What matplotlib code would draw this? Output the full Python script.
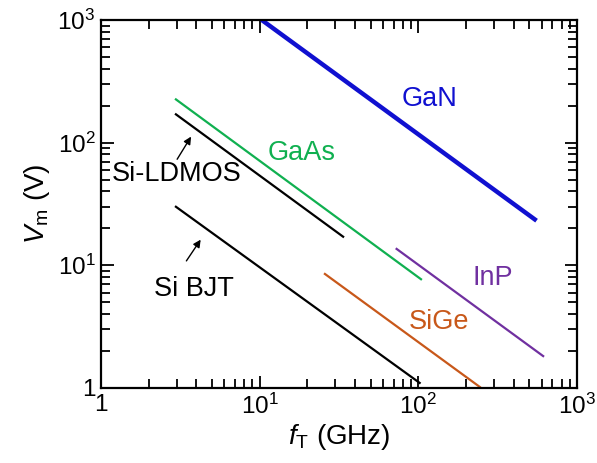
import numpy as np
import matplotlib
matplotlib.use("Agg")
import matplotlib.pyplot as plt
from matplotlib.ticker import LogLocator, FixedLocator, FixedFormatter

plt.rcParams['font.family'] = ['Liberation Sans', 'DejaVu Sans']
plt.rcParams['mathtext.fontset'] = 'custom'
plt.rcParams['mathtext.rm'] = 'Liberation Sans'
plt.rcParams['mathtext.it'] = 'Liberation Sans:italic'

# line end points (fT in GHz, Vm in V)
gan_f = [10.3, 556]
gan_v = [1000, 23.1]
gaas_f = [2.97, 104]
gaas_v = [225, 7.7]
ldmos_f = [2.97, 33.6]
ldmos_v = [170, 17.1]
bjt_f = [2.97, 102]
bjt_v = [30, 1.1]
sige_f = [25.8, 244]
sige_v = [8.5, 1.02]
inp_f = [73, 612]
inp_v = [13.6, 1.82]

tick_vals = [1, 10, 100, 1000]
tick_labels = ['1', '$10^1$', '$10^2$', '$10^3$']

fig = plt.figure(figsize=(5.97, 4.63), dpi=100)
ax = fig.add_axes([0.169, 0.162, 0.7975, 0.795])

ax.plot(gan_f, gan_v, color='#1010D0', lw=3.2, solid_capstyle='butt')
ax.plot(gaas_f, gaas_v, color='#10B050', lw=1.6)
ax.plot(ldmos_f, ldmos_v, color='black', lw=1.6)
ax.plot(bjt_f, bjt_v, color='black', lw=1.6)
ax.plot(sige_f, sige_v, color='#C8581A', lw=1.6)
ax.plot(inp_f, inp_v, color='#7030A0', lw=1.6)

ax.set_xscale('log')
ax.set_yscale('log')
ax.set_xlim(1, 1000)
ax.set_ylim(1, 1000)

fs = 19.5
ax.text(117, 226, 'GaN', color='#1010D0', fontsize=fs, ha='center', va='center')
ax.text(18.5, 82, 'GaAs', color='#10B050', fontsize=fs, ha='center', va='center')
ax.text(295, 7.9, 'InP', color='#7030A0', fontsize=fs, ha='center', va='center')
ax.text(135, 3.45, 'SiGe', color='#C8581A', fontsize=fs, ha='center', va='center')

ax.annotate('', xy=(3.78, 117), xytext=(2.96, 70),
            arrowprops=dict(arrowstyle='-|>', color='black', lw=1, mutation_scale=11))
ax.text(3.0, 56, 'Si-LDMOS', color='black', fontsize=fs, ha='center', va='center')
ax.annotate('', xy=(4.35, 16.9), xytext=(3.38, 10.4),
            arrowprops=dict(arrowstyle='-|>', color='black', lw=1, mutation_scale=11))
ax.text(3.85, 6.4, 'Si BJT', color='black', fontsize=fs, ha='center', va='center')

for axis in (ax.xaxis, ax.yaxis):
    axis.set_major_locator(FixedLocator(tick_vals))
    axis.set_major_formatter(FixedFormatter(tick_labels))
    axis.set_minor_locator(LogLocator(base=10, subs=np.arange(2, 10), numticks=20))
    axis.set_minor_formatter(plt.NullFormatter())

ax.tick_params(which='both', direction='in', top=True, right=True, width=1.3, labelsize=17.5)
ax.tick_params(which='major', length=9, pad=4)
ax.tick_params(which='minor', length=6.5)
for sp in ax.spines.values():
    sp.set_linewidth(1.6)

ax.set_xlabel('$f_\\mathrm{T}$ (GHz)', fontsize=20, labelpad=2)
ax.set_ylabel('$V_\\mathrm{m}$ (V)', fontsize=20, labelpad=4)

fig.savefig('out.png', dpi=100)
